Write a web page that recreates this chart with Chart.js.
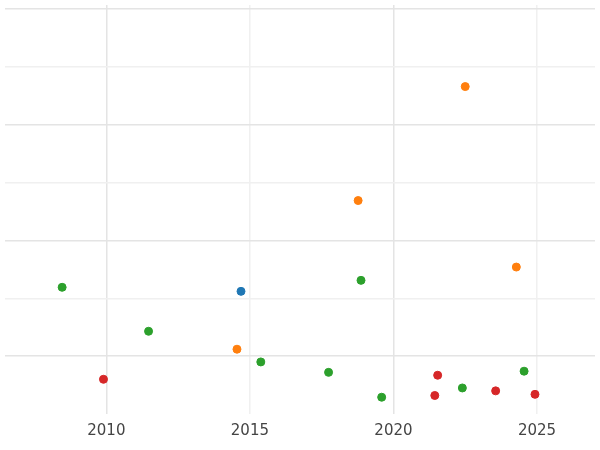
<!DOCTYPE html>
<html>
<head>
<meta charset="utf-8">
<script src="https://cdn.jsdelivr.net/npm/chart.js@4"></script>
<style>
html,body{margin:0;padding:0;background:#fff;}
#wrap{width:600px;height:450px;}
</style>
</head>
<body>
<div id="wrap"><canvas id="c"></canvas></div>
<script>
// Scatter points per group

const blueX=[2014.69];
const blueY=[1.12];

const orangeX=[2022.5,2018.77,2024.28,2014.55];
const orangeY=[4.66,2.69,1.54,0.12];

const greenX=[2008.46,2011.47,2018.87,2015.38,2017.74,2019.59,2022.4,2024.55];
const greenY=[1.19,0.43,1.31,-0.10,-0.28,-0.71,-0.55,-0.26];

const redX=[2009.9,2021.54,2021.44,2023.56,2024.93];
const redY=[-0.40,-0.33,-0.68,-0.60,-0.66];

const xTicks=[2010,2015,2020,2025];


function pts(xs,ys){
return xs.map((x,i)=>({x:x,y:ys[i]}));
}

function ds(xs,ys,col){
return {data:pts(xs,ys),backgroundColor:col,borderColor:col,pointRadius:4,pointHoverRadius:4};
}


new Chart(document.getElementById("c"),{

type:"scatter",

data:{
datasets:[
ds(blueX,blueY,"#1f77b4"),
ds(orangeX,orangeY,"#ff7f0e"),
ds(greenX,greenY,"#2ca02c"),
ds(redX,redY,"#d62728")
]
},

options:{
responsive:true,
maintainAspectRatio:false,
animation:false,
layout:{padding:{left:-6,right:-6,top:-6,bottom:2}},
plugins:{legend:{display:false},tooltip:{enabled:false}},
scales:{
x:{
type:"linear",
min:2006.47,
max:2027.02,
border:{display:false},
afterBuildTicks:(a)=>{a.ticks=xTicks.map(v=>({value:v}));},
grid:{
color:(c)=>(c.tick&&c.tick.value%10===0)?"#e4e4e4":"#f0f0f0",
lineWidth:1.5,
drawTicks:false
},
ticks:{color:"#444",font:{family:"DejaVu Sans",size:15},padding:8,callback:(v)=>String(v)}
},
y:{
min:-1,
max:6.07,
border:{display:false},
afterBuildTicks:(a)=>{a.ticks=[0,1,2,3,4,5,6].map(v=>({value:v}));},
grid:{
color:(c)=>(c.tick&&c.tick.value%2===0)?"#e4e4e4":"#f0f0f0",
lineWidth:1.5,
drawTicks:false
},
ticks:{display:false}
}
}
}

});
</script>
</body>
</html>
